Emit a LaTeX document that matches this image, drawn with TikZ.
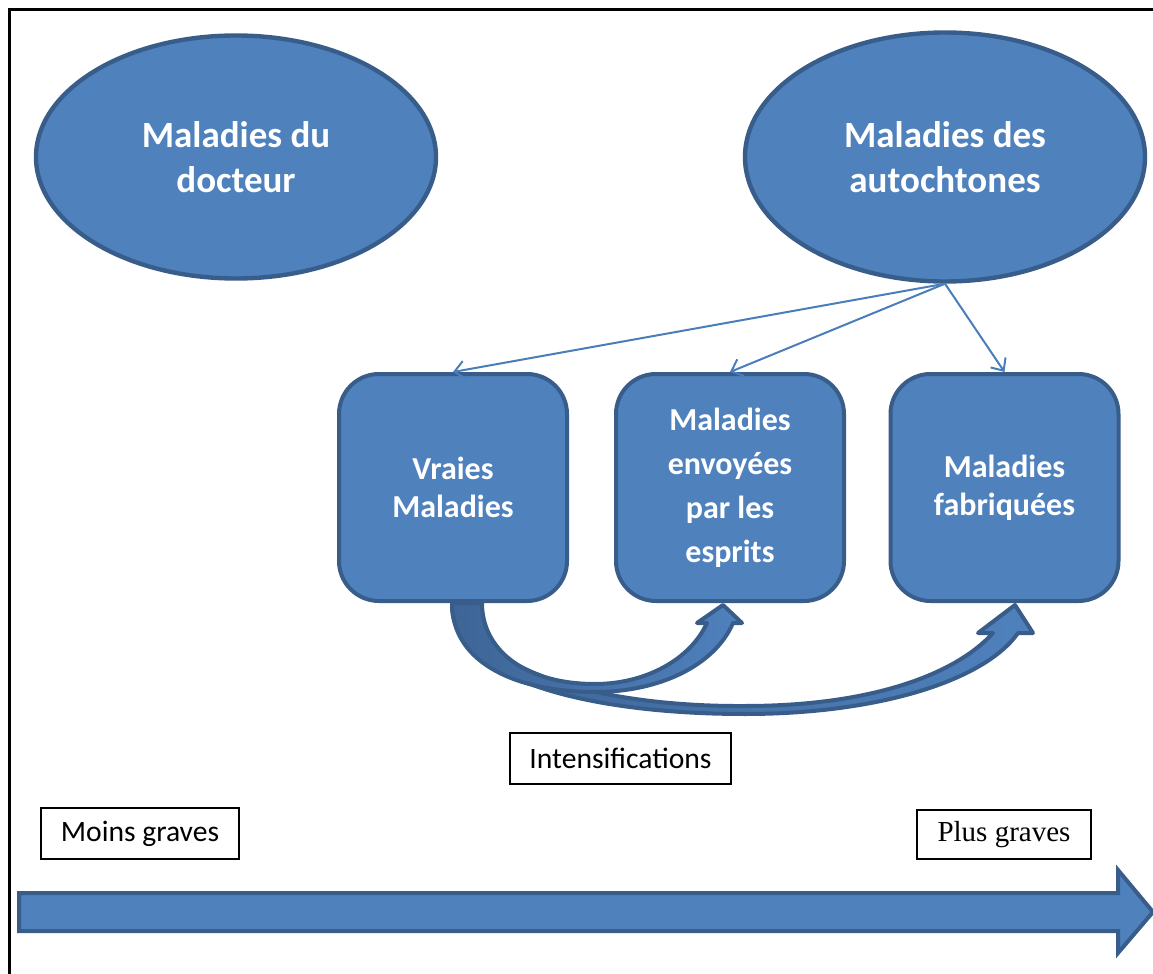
\documentclass[tikz,border=0pt]{standalone}
\usepackage{fontspec}
\setmainfont{Carlito}
\newfontfamily\timesfont{Liberation Serif}
\usetikzlibrary{shapes.geometric}
\usetikzlibrary{arrows.meta}
\definecolor{boxfill}{HTML}{4F81BD}
\definecolor{boxline}{HTML}{385D8A}
\definecolor{arrowdark}{HTML}{3E6596}
\definecolor{thinblue}{HTML}{4A7EBB}

\begin{document}
\begin{tikzpicture}[x=0.5pt,y=-0.5pt,inner sep=0pt,
  oval/.style={draw=boxline,fill=boxfill,ellipse,line width=2.2pt,text=white,align=center,
    font=\fontsize{18.5}{22.5}\selectfont\bfseries},
  rbox/.style={draw=boxline,fill=boxfill,rectangle,rounded corners=20pt,line width=2pt,text=white,align=center,
    minimum width=114pt,minimum height=113.5pt,font=\fontsize{16}{19}\selectfont\bfseries},
  label/.style={draw=black,fill=white,line width=0.75pt,minimum height=25.5pt,font=\fontsize{14.8}{17}\selectfont},
  thin/.style={draw=thinblue,line width=1pt,-{Straight Barb[length=5pt,width=9pt]}},
  bigarrow/.style={draw=boxline,fill=boxfill,line width=2pt,line join=miter},
  curvearrow/.style={draw=boxline,line width=2pt,line join=round,left color=arrowdark,right color=boxfill}]
\useasboundingbox (0,0) rectangle (1153,974);
\draw [line width=1.5pt] (9,990) -- (9,10) -- (1170,10);

\node [oval,minimum width=200pt,minimum height=121.5pt] (docteur) at (236,157) {Maladies du\\docteur};
\node [oval,minimum width=200pt,minimum height=124.5pt] (aut) at (945,157) {Maladies des\\autochtones};

\node [rbox] (vraies) at (453,487.5) {Vraies\\Maladies};
\node [rbox,font=\fontsize{16}{22}\selectfont\bfseries] (esprits) at (730,487.5) {Maladies\\envoyées\\par les\\esprits};
\node [rbox] (fabriquees) at (1004.5,487.5) {Maladies\\fabriquées};

\draw [thin] (aut.south) -- (vraies.north);
\draw [thin] (aut.south) -- (esprits.north);
\draw [thin] (aut.south) -- (fabriquees.north);

\draw [curvearrow] (452,603) .. controls (450,680) and (590,714) .. (745,714)
  .. controls (880,714) and (985,680) .. (1018,633) -- (1033,633) -- (1015,605) -- (978,633) -- (993,633)
  .. controls (955,675) and (870,706) .. (745,706) .. controls (600,707) and (470,670) .. (466,603) -- cycle;
\draw [curvearrow] (452,603) .. controls (452,665) and (520,692) .. (595,692)
  .. controls (660,692) and (715,665) .. (733,623) -- (742,623) -- (723,605) -- (697,623) -- (707,623)
  .. controls (690,660) and (645,684) .. (595,684) .. controls (525,684) and (482,650) .. (482,603) -- cycle;

\node [label,minimum width=110.5pt] (intens) at (620.5,758.5) {Intensifications};
\node [label,minimum width=99pt] (moins) at (140,833.5) {Moins graves};
\node [label,minimum width=87pt,minimum height=24.5pt,font=\fontsize{14.5}{17}\timesfont] (plus) at (1004,834.5) {Plus graves};

\draw [bigarrow] (19,893) -- (1118,893) -- (1118,870) -- (1153,912) -- (1118,953) -- (1118,931) -- (19,931) -- cycle;
\end{tikzpicture}
\end{document}
